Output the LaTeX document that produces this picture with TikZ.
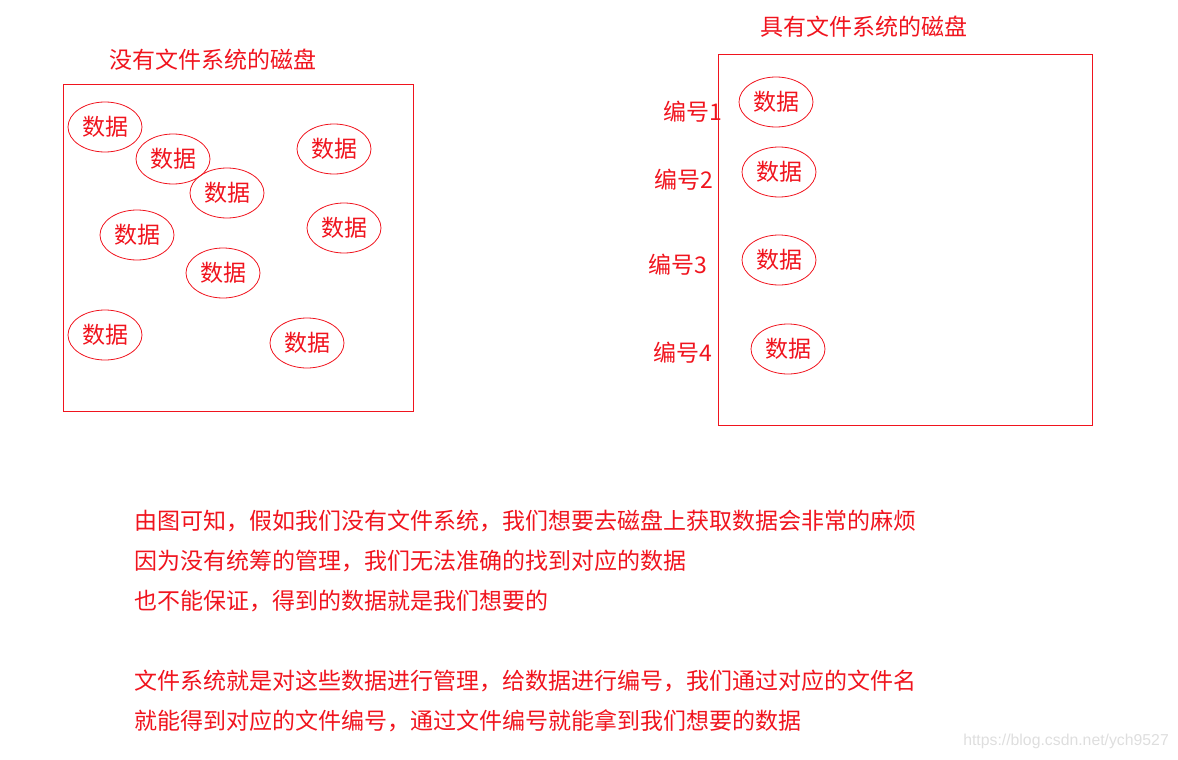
\documentclass[tikz,border=0pt]{standalone}
\usepackage{fontspec}
\setmainfont{Noto Sans CJK SC}
\newfontfamily\wmfont{Liberation Sans}
\usetikzlibrary{shapes.geometric}
\definecolor{inkred}{RGB}{240,20,30}
\definecolor{wmgray}{RGB}{222,222,222}
\tikzset{
  txt/.style={text=inkred, inner sep=0pt, font=\fontsize{23}{27}\selectfont},
  disk/.style={draw=inkred, line width=0.9pt},
  blob/.style={ellipse, draw=inkred, line width=0.8pt, minimum width=74pt, minimum height=50pt, inner sep=0pt, text=inkred, font=\fontsize{23}{27}\selectfont},
  para/.style={txt, anchor=west},
}
\begin{document}
\begin{tikzpicture}[x=1pt,y=-1pt]
\useasboundingbox (0,0) rectangle (1178,760);
% left disk
\node[txt] (ltitle) at (213,60) {没有文件系统的磁盘};
\node[disk, draw, minimum width=350pt, minimum height=327pt, inner sep=0pt] (ldisk) at (238,247.5) {};
\node[blob] (l1) at (105,127) {数据};
\node[blob] (l2) at (173,159) {数据};
\node[blob] (l3) at (227,193) {数据};
\node[blob] (l4) at (334,149) {数据};
\node[blob] (l5) at (137,235) {数据};
\node[blob] (l6) at (344,228) {数据};
\node[blob] (l7) at (223,273) {数据};
\node[blob] (l8) at (105,335) {数据};
\node[blob] (l9) at (307,343) {数据};
% right disk
\node[txt] (rtitle) at (864,27) {具有文件系统的磁盘};
\node[disk, draw, minimum width=374pt, minimum height=371pt, inner sep=0pt] (rdisk) at (905,239.5) {};
\node[blob] (r1) at (776,102) {数据};
\node[blob] (r2) at (779,172) {数据};
\node[blob] (r3) at (779,260) {数据};
\node[blob] (r4) at (788,349) {数据};
\node[para] (n1) at (663,112) {编号1};
\node[para] (n2) at (654,180) {编号2};
\node[para] (n3) at (648,265) {编号3};
\node[para] (n4) at (653,353) {编号4};
% explanation
\node[para] (p1) at (134,521) {由图可知，假如我们没有文件系统，我们想要去磁盘上获取数据会非常的麻烦};
\node[para] (p2) at (134,561) {因为没有统筹的管理，我们无法准确的找到对应的数据};
\node[para] (p3) at (134,601) {也不能保证，得到的数据就是我们想要的};
\node[para] (p4) at (134,681) {文件系统就是对这些数据进行管理，给数据进行编号，我们通过对应的文件名};
\node[para] (p5) at (134,721) {就能得到对应的文件编号，通过文件编号就能拿到我们想要的数据};
% watermark
\node[anchor=east, inner sep=0pt, text=wmgray, font=\wmfont\fontsize{15.8}{18}\selectfont] (wm) at (1169,741) {https://blog.csdn.net/ych9527};
\end{tikzpicture}
\end{document}
